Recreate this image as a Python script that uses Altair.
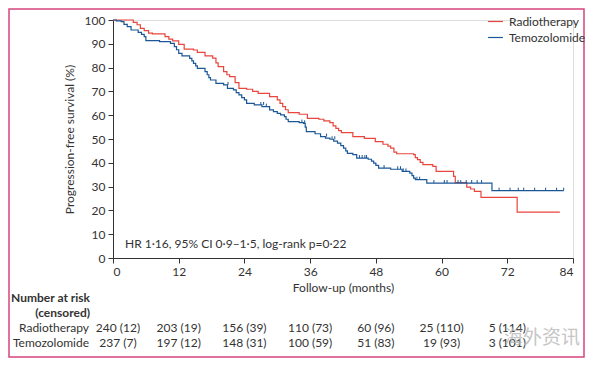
import altair as alt
import pandas as pd

# Kaplan-Meier step points (months, % progression-free)
rt_time = [0, 3.7, 4.4, 5.0, 5.7, 6.5, 7.2, 9.5, 10.2, 10.9, 12.0, 13.0, 14.7, 15.4, 16.8, 18.2, 18.8,
           19.2, 20.2, 20.8, 21.3, 22.3, 23.0, 24.4, 25.5, 26.5, 28.6, 30.0, 30.5, 31.0, 31.5, 32.0,
           34.0, 35.5, 37.6, 38.5, 39.6, 40.2, 40.7, 41.2, 41.7, 43.8, 45.9, 47.9, 49.3, 50.2, 50.7,
           51.3, 51.8, 54.9, 55.2, 55.6, 56.1, 56.6, 58.4, 59.0, 62.2, 62.5, 64.6, 65.3, 66.0, 67.2,
           73.8, 81.6]
rt_surv = [100, 99, 98, 96.5, 95.5, 94.5, 94.2, 93, 92, 91.2, 89.8, 87.8, 87.4, 86.4, 84.9, 84, 82,
           80.4, 78.3, 77, 76.2, 73.7, 71.3, 70.9, 70, 69.2, 67.8, 66.4, 65, 63.6, 62.3, 61.1,
           60.4, 58.7, 58.3, 57.6, 56.9, 55.5, 54.5, 53.5, 52.7, 51, 50.3, 48.9, 47.8, 47, 46.2,
           44.5, 43.8, 43.4, 42.2, 41.3, 40.2, 39.2, 38.5, 36.4, 34.3, 31.7, 29.8, 29, 28, 25.5,
           19.3, 19.3]

tmz_time = [0, 0.6, 1.5, 2.0, 2.6, 3.3, 4.6, 5.2, 5.7, 6.0, 8.5, 10.5, 11.2, 11.6, 12.0, 12.6, 14.0,
            14.4, 14.7, 15.1, 15.4, 16.8, 17.2, 17.5, 17.8, 18.8, 20.2, 20.9, 22.0, 22.5, 23.0, 23.5,
            24.0, 24.4, 25.8, 27.2, 28.6, 29.3, 30.0, 30.6, 31.3, 31.6, 32.0, 34.0, 34.8, 35.1, 35.3,
            36.9, 37.9, 38.8, 39.6, 40.3, 41.0, 41.6, 42.1, 42.5, 42.8, 43.8, 44.5, 46.6, 47.2, 47.6,
            48.0, 48.5, 50.7, 52.8, 54.2, 54.6, 54.9, 55.2, 57.3, 69.2, 82.3]
tmz_surv = [100, 99.6, 99.3, 98.2, 97.2, 95.8, 94.8, 94, 93, 91.3, 90.9, 90.2, 88.8, 87.5, 86, 84.9, 83.9,
            82.8, 81.8, 80.7, 79.7, 78.3, 77, 75.8, 74.8, 73.4, 72.7, 71.3, 70.6, 69.5, 68.5, 67.4,
            66.4, 65, 64.3, 63.6, 62.2, 61.5, 60.8, 60.1, 59.4, 58.3, 57.3, 56.9, 56.6, 55, 53.1,
            52.2, 51, 50.4, 49.9, 49.1, 48.3, 47.2, 46.2, 45, 44, 43.4, 42, 41.5, 40.7, 39.9,
            38.9, 37.8, 37.3, 36.4, 35.7, 34.6, 33.6, 32.9, 31.5, 28.3, 28.3]

# censoring marks (Temozolomide)
tmz_cens_time = [21.0, 27.0, 27.5, 28.0, 34.5, 35.0, 39.0, 40.0, 40.5, 45.0, 45.5, 46.0, 46.3, 49.5,
                 52.0, 52.5, 53.0, 53.5, 55.5, 56.0, 58.6, 60.5, 61.0, 63.0, 63.5, 64.5, 65.5, 66.5,
                 67.3, 70.5, 72.5, 74.0, 75.0, 77.0, 79.0, 81.0, 82.3]
tmz_cens_surv = [72.7, 64.3, 64.3, 63.6, 56.9, 56.6, 51, 49.9, 49.9, 42, 42, 42, 42, 37.8,
                 37.3, 37.3, 36.4, 36.4, 32.9, 32.9, 31.5, 31.5, 31.5, 31.5, 31.5, 31.5, 31.5, 31.5,
                 31.5, 28.3, 28.3, 28.3, 28.3, 28.3, 28.3, 28.3, 28.3]

risk_months = [0, 12, 24, 36, 48, 60, 72]
risk_rt = ["240 (12)", "203 (19)", "156 (39)", "110 (73)", "60 (96)", "25 (110)", "5 (114)"]
risk_tmz = ["237 (7)", "197 (12)", "148 (31)", "100 (59)", "51 (83)", "19 (93)", "3 (101)"]

series = ["Radiotherapy", "Temozolomide"]
colors = ["#e8453c", "#1b5796"]
FONT = "Lato"
TXT = "#333333"

km = pd.concat([
    pd.DataFrame({"month": rt_time, "surv": rt_surv, "group": series[0]}),
    pd.DataFrame({"month": tmz_time, "surv": tmz_surv, "group": series[1]}),
])
cens = pd.DataFrame({"month": tmz_cens_time, "surv": tmz_cens_surv})
risk = pd.DataFrame({"month": risk_months, "rt": risk_rt, "tmz": risk_tmz})
one = pd.DataFrame({"a": [0]})

xscale = alt.Scale(domain=[0, 84], nice=False, zero=False)
yscale = alt.Scale(domain=[0, 100], nice=False)

common_axis = dict(grid=False, tickSize=5, labelFontSize=12, titleFontSize=12,
                   titleFontWeight="normal", labelColor=TXT, titleColor=TXT, domainColor=TXT,
                   tickColor=TXT, labelFont=FONT, titleFont=FONT, labelOverlap=False)
xaxis = alt.Axis(values=[0, 12, 24, 36, 48, 60, 72, 84], title="Follow-up (months)",
                 labelPadding=3, titlePadding=5, **common_axis)
yaxis = alt.Axis(values=[0, 10, 20, 30, 40, 50, 60, 70, 80, 90, 100],
                 title="Progression-free survival (%)", tickCount=11,
                 labelPadding=3, titlePadding=8, **common_axis)

X = alt.X("month:Q", scale=xscale, axis=xaxis)
Y = alt.Y("surv:Q", scale=yscale, axis=yaxis)

border = alt.Chart(one).mark_rect(fill=None, stroke="#d6457e", strokeWidth=1.5).encode(
    x=alt.value(-104), x2=alt.value(471), y=alt.value(-11), y2=alt.value(337))

lines = alt.Chart(km).mark_line(interpolate="step-after", strokeWidth=1.2).encode(
    x=X, y=Y,
    color=alt.Color("group:N", scale=alt.Scale(domain=series, range=colors),
                    legend=alt.Legend(title=None, orient="none", legendX=374, legendY=-7,
                                      symbolType="stroke", symbolSize=220, symbolStrokeWidth=1.2,
                                      labelFontSize=12, labelFont=FONT, labelColor=TXT,
                                      rowPadding=1, labelOffset=5)),
    detail="group:N",
)

ticks = alt.Chart(cens).mark_point(shape="M0,0L0,-1", size=36, filled=False, strokeWidth=1,
                                   color=colors[1], opacity=1).encode(x=X, y=Y)

hr = alt.Chart(one).mark_text(text="HR 1·16, 95% CI 0·9–1·5, log-rank p=0·22", align="left",
                              baseline="middle", fontSize=12, font=FONT, color=TXT).encode(
    x=alt.value(12), y=alt.value(224))

txt = dict(fontSize=12, font=FONT, color=TXT, baseline="middle")
head1 = alt.Chart(one).mark_text(text="Number at risk", align="right", fontWeight="bold", **txt).encode(
    x=alt.value(-23), y=alt.value(278))
head2 = alt.Chart(one).mark_text(text="(censored)", align="right", fontWeight="bold", **txt).encode(
    x=alt.value(-23), y=alt.value(293))
lab1 = alt.Chart(one).mark_text(text="Radiotherapy", align="right", **txt).encode(
    x=alt.value(-24), y=alt.value(308))
lab2 = alt.Chart(one).mark_text(text="Temozolomide", align="right", **txt).encode(
    x=alt.value(-24), y=alt.value(323))

rt_first = alt.Chart(risk).transform_filter("datum.month == 0").mark_text(align="center", dx=5, **txt).encode(
    x=X, y=alt.value(308), text="rt:N")
rt_rest = alt.Chart(risk).transform_filter("datum.month > 0").mark_text(align="center", **txt).encode(
    x=X, y=alt.value(308), text="rt:N")
tmz_first = alt.Chart(risk).transform_filter("datum.month == 0").mark_text(align="center", dx=5, **txt).encode(
    x=X, y=alt.value(323), text="tmz:N")
tmz_rest = alt.Chart(risk).transform_filter("datum.month > 0").mark_text(align="center", **txt).encode(
    x=X, y=alt.value(323), text="tmz:N")

watermark = alt.Chart(one).mark_text(text="海外资讯", align="left", baseline="middle", fontSize=19,
                                     font="Noto Sans CJK SC", color="#b8b8b8", opacity=0.8).encode(
    x=alt.value(391), y=alt.value(318))

chart = alt.layer(border, lines, ticks, hr, head1, head2, lab1, lab2,
                  rt_first, rt_rest, tmz_first, tmz_rest, watermark).properties(
    width=460, height=238,
    autosize=alt.AutoSizeParams(type="none"),
    padding={"left": 105, "top": 12, "right": 13, "bottom": 100},
).configure_view(stroke=None).configure(background="white")

chart.save("out.html", embed_options={"renderer": "svg", "actions": False})
